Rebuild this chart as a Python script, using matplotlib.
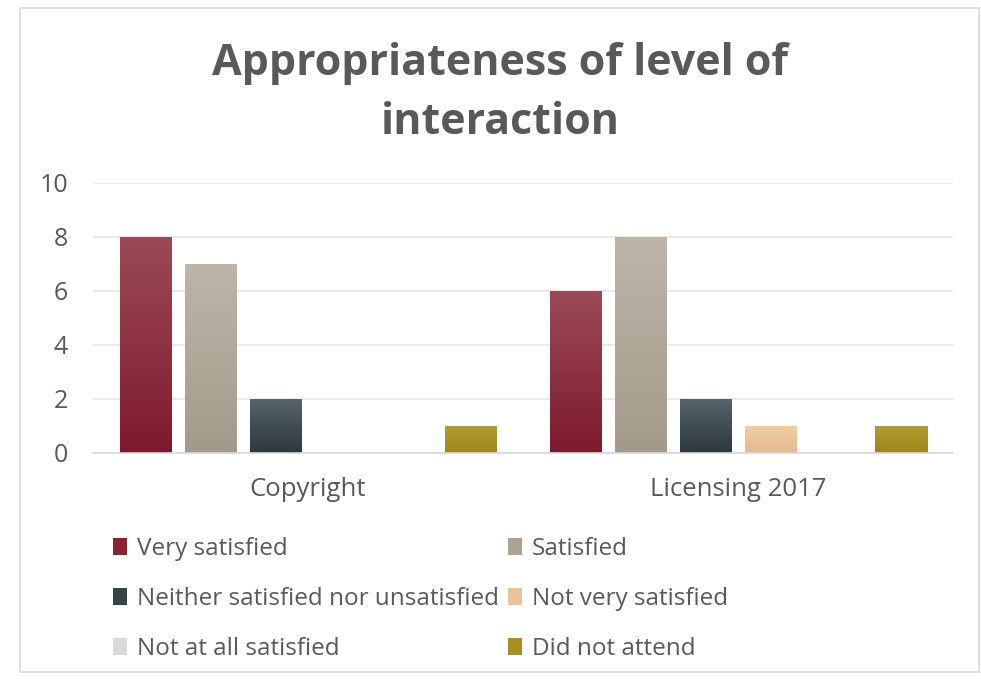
import matplotlib
matplotlib.use("Agg")
import matplotlib.pyplot as plt
import numpy as np
from matplotlib.colors import LinearSegmentedColormap
from matplotlib.patches import Rectangle, Patch

categories = ["Copyright", "Licensing 2017"]
series_names = ["Very satisfied", "Satisfied", "Neither satisfied nor unsatisfied",
                "Not very satisfied", "Not at all satisfied", "Did not attend"]
very_satisfied = [8, 6]
satisfied = [7, 8]
neither = [2, 2]
not_very = [0, 1]
not_at_all = [0, 0]
did_not_attend = [1, 1]
series_values = [very_satisfied, satisfied, neither, not_very, not_at_all, did_not_attend]

top_colors = ["#9c4a57", "#bdb5a8", "#56636a", "#f0cca4", "#e6e6e6", "#b39c38"]
bot_colors = ["#7e1a2d", "#a39a8b", "#2c383e", "#e5ba8e", "#cfcfcf", "#a08614"]
legend_colors = ["#8b2335", "#aca393", "#37434a", "#eac39a", "#d9d9d9", "#a88f22"]

W, H = 981, 679
fig = plt.figure(figsize=(W / 100, H / 100), dpi=100)
fig.patch.set_facecolor("white")
plt.rcParams["font.family"] = ["Open Sans", "DejaVu Sans"]
text_color = "#595959"

# border
fig.add_artist(Rectangle((20 / W, 1 - 672 / H), (979 - 20) / W, (672 - 8) / H,
                         transform=fig.transFigure, fill=False, edgecolor="#d9d9d9", lw=1.2))

ax = fig.add_axes([93 / W, 1 - 453 / H, (953 - 93) / W, (453 - 183) / H])
x = np.arange(len(categories))
slot = 65 / 430
width = 52 / 430
n = len(series_values)
for i, (vals, name) in enumerate(zip(series_values, series_names)):
    offs = (i - (n - 1) / 2) * slot
    bars = ax.bar(x + offs, vals, width, color=legend_colors[i], label=name, zorder=2)
    cmap = LinearSegmentedColormap.from_list("g%d" % i, [bot_colors[i], top_colors[i]])
    for b in bars:
        h = b.get_height()
        if h <= 0:
            continue
        grad = np.linspace(1, 0, 100).reshape(-1, 1)
        ax.imshow(grad, extent=[b.get_x(), b.get_x() + b.get_width(), 0, h],
                  aspect="auto", cmap=cmap, vmin=0, vmax=1, zorder=3)

ax.set_xlim(-0.5, 1.5)
ax.set_ylim(0, 10)
ax.set_aspect("auto")
ax.set_yticks(range(0, 11, 2))
ax.set_xticks(x)
ax.set_xticklabels(categories)
ax.yaxis.grid(True, color="#e6e6e6", lw=1.2, zorder=0)
ax.set_axisbelow(True)
for s in ["top", "right", "left"]:
    ax.spines[s].set_visible(False)
ax.spines["bottom"].set_color("#d9d9d9")
ax.spines["bottom"].set_linewidth(1.2)
ax.spines["bottom"].set_zorder(4)
ax.tick_params(axis="x", length=0, labelsize=18.5, labelcolor=text_color, pad=17)
ax.tick_params(axis="y", length=0, labelsize=18, labelcolor=text_color, pad=18)

fig.text(500 / W, 1 - 93 / H, "Appropriateness of level of\ninteraction", ha="center",
         va="center", fontsize=31, fontweight="bold", color=text_color, linespacing=1.48)

handles = [Patch(facecolor=c, edgecolor="none") for c in legend_colors]
cols = [[0, 2, 4], [1, 3, 5]]
xs = [113, 508]
for cidx, col in enumerate(cols):
    leg = fig.legend([handles[k] for k in col], [series_names[k] for k in col],
                     loc="upper left", bbox_to_anchor=(xs[cidx] / W, 1 - 537 / H),
                     frameon=False, fontsize=17.5, labelcolor=text_color,
                     handlelength=0.56, handleheight=0.75, handletextpad=0.42,
                     labelspacing=1.07, borderpad=0, borderaxespad=0)

fig.savefig("out.png", dpi=100)
